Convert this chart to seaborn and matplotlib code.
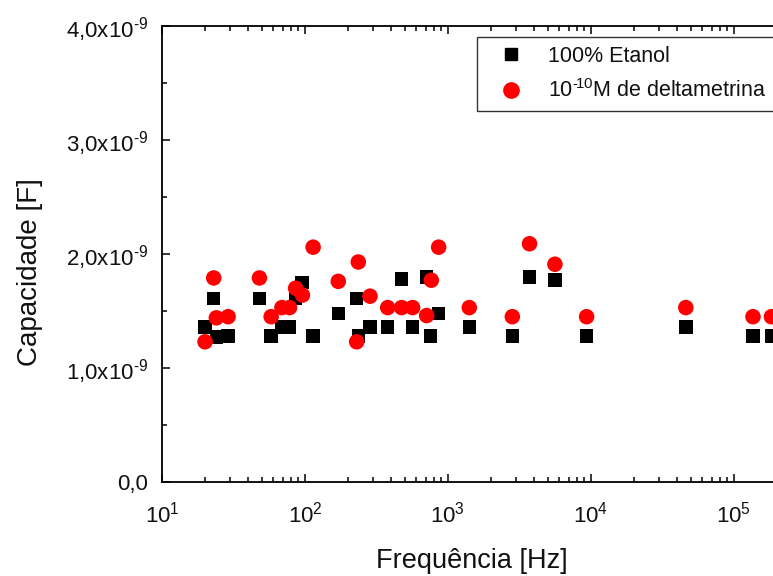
import numpy as np
import pandas as pd
import matplotlib
matplotlib.use('Agg')
import matplotlib.pyplot as plt
import seaborn as sns
from matplotlib.ticker import LogLocator, NullFormatter, MultipleLocator

# frequências [Hz] e capacidades [nF]
etanol_freq = [20, 23, 24, 29, 48, 58, 69, 78, 86, 95, 114, 171, 230, 236, 285,
               379, 474, 566, 710, 757, 861, 1410, 2820, 3720, 5600, 9330,
               46100, 136000, 183000]
etanol_cap = [1.36, 1.61, 1.27, 1.28, 1.61, 1.28, 1.36, 1.36, 1.61, 1.75, 1.28,
              1.48, 1.61, 1.28, 1.36, 1.36, 1.78, 1.36, 1.80, 1.28, 1.48, 1.36,
              1.28, 1.80, 1.77, 1.28, 1.36, 1.28, 1.28]

delta_freq = [20, 23, 24, 29, 48, 58, 69, 78, 86, 96, 114, 171, 236, 230, 285,
              379, 474, 566, 710, 765, 861, 1410, 2820, 3720, 5600, 9330,
              46100, 136000, 183000]
delta_cap = [1.23, 1.79, 1.44, 1.45, 1.79, 1.45, 1.53, 1.53, 1.70, 1.64, 2.06,
             1.76, 1.93, 1.23, 1.63, 1.53, 1.53, 1.53, 1.46, 1.77, 2.06, 1.53,
             1.45, 2.09, 1.91, 1.45, 1.53, 1.45, 1.45]

series_names = ['100% Etanol', '10$^{\u2010\\!10}$M de deltametrina']
y_ticks = [0, 1e-9, 2e-9, 3e-9, 4e-9]
y_labels = ['0,0', '1,0x10$^{\u20109}$', '2,0x10$^{\u20109}$',
            '3,0x10$^{\u20109}$', '4,0x10$^{\u20109}$']
x_ticks = [1e1, 1e2, 1e3, 1e4, 1e5]
x_labels = ['10$^{1}$', '10$^{2}$', '10$^{3}$', '10$^{4}$', '10$^{5}$']

df = pd.concat([
    pd.DataFrame({'freq': etanol_freq, 'cap': np.array(etanol_cap) * 1e-9, 'serie': series_names[0]}),
    pd.DataFrame({'freq': delta_freq, 'cap': np.array(delta_cap) * 1e-9, 'serie': series_names[1]}),
])

sns.set_style('ticks')
plt.rcParams['font.family'] = ['Liberation Sans', 'DejaVu Sans']
plt.rcParams['mathtext.fontset'] = 'custom'
plt.rcParams['mathtext.rm'] = 'Liberation Sans'
plt.rcParams['mathtext.it'] = 'Liberation Sans:italic'
plt.rcParams['mathtext.bf'] = 'Liberation Sans:bold'
plt.rcParams['mathtext.default'] = 'regular'
plt.rcParams['text.color'] = '#111111'
plt.rcParams['axes.labelcolor'] = '#111111'

fig = plt.figure(figsize=(7.73, 5.76), dpi=100)
# o eixo continua um pouco além da borda direita da imagem (recorte do original)
ax = fig.add_axes([162 / 773, 94 / 576, 620 / 773, 456 / 576])

sns.scatterplot(data=df, x='freq', y='cap', hue='serie', style='serie',
                palette={series_names[0]: 'black', series_names[1]: '#ff0000'},
                markers={series_names[0]: 's', series_names[1]: 'o'},
                size='serie', sizes={series_names[0]: 95, series_names[1]: 125},
                linewidth=0, ax=ax, legend=False)

ax.set_xscale('log')
ax.set_ylim(0, 4e-9)
ax.set_yticks(y_ticks)
ax.set_yticklabels(y_labels)
ax.yaxis.set_minor_locator(MultipleLocator(0.5e-9))
ax.set_xticks(x_ticks)
ax.set_xticklabels(x_labels)
ax.xaxis.set_minor_locator(LogLocator(base=10, subs=np.arange(2, 10)))
ax.xaxis.set_minor_formatter(NullFormatter())
ax.set_xlim(10, 2.17e5)

ax.tick_params(which='both', direction='in', top=True, right=False, width=1.1,
               labelsize=16, colors='black', labelcolor='#111111')
ax.tick_params(axis='x', which='major', pad=14)
ax.tick_params(axis='y', which='major', pad=10)
ax.tick_params(which='major', length=6)
ax.tick_params(which='minor', length=3.5)
for sp in ax.spines.values():
    sp.set_linewidth(1.3)
    sp.set_color('black')

ax.set_xlabel('Frequência [Hz]', fontsize=19.5)
ax.set_ylabel('Capacidade [F]', fontsize=20)
ax.xaxis.set_label_coords(0.5, -0.145)
ax.yaxis.set_label_coords(-0.192, 0.46)

handles = [
    plt.Line2D([], [], marker='s', color='black', linestyle='none', markersize=9),
    plt.Line2D([], [], marker='o', color='#ff0000', linestyle='none', markersize=11),
]
leg = fig.legend(handles, series_names, loc='upper left',
                 bbox_to_anchor=(477 / 773, 1 - 37 / 576), borderaxespad=0,
                 fontsize=15.5, frameon=True, fancybox=False, handlelength=2.4,
                 handletextpad=0.5, labelspacing=0.6, borderpad=0.4,
                 labelcolor='#111111')
leg.get_frame().set_edgecolor('black')
leg.get_frame().set_linewidth(1.0)

fig.savefig('out.png', dpi=100)
